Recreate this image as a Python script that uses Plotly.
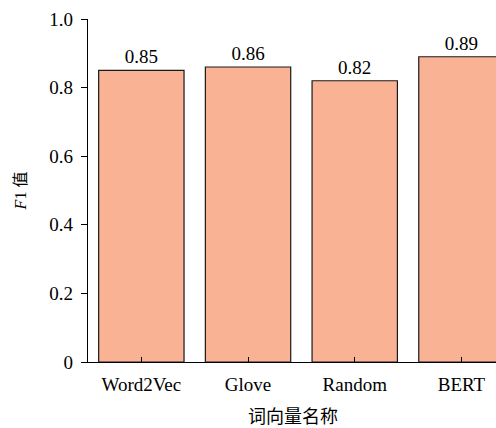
import plotly.graph_objects as go

categories = ["Word2Vec", "Glove", "Random", "BERT"]
f1_values = [0.85, 0.86, 0.82, 0.89]
y_tick_vals = [0, 0.2, 0.4, 0.6, 0.8, 1.0]
y_tick_text = ["0", "0.2", "0.4", "0.6", "0.8", "1.0"]
x_title = "词向量名称"

serif = "Liberation Serif"

fig = go.Figure(go.Bar(
    x=categories, y=f1_values,
    text=[f"{v:.2f}" for v in f1_values],
    textposition="outside",
    textfont=dict(family=serif, size=19, color="black"),
    cliponaxis=True,
    marker=dict(color="#F9B294", line=dict(color="#1a1a1a", width=1.2)),
))

fig.update_layout(
    width=496, height=428,
    margin=dict(l=88, r=0, t=19, b=66),
    plot_bgcolor="white", paper_bgcolor="white",
    bargap=0.2,
    showlegend=False,
    font=dict(family=serif, size=18, color="black"),
)
fig.add_annotation(
    text=x_title, xref="paper", yref="paper", x=0.502, y=-0.155,
    xanchor="center", yanchor="middle", showarrow=False,
    font=dict(family="Noto Sans CJK SC", size=18, color="black"),
)
fig.update_xaxes(
    type="category", range=[-0.5, 3.324],
    showline=True, linecolor="black", linewidth=1.2,
    ticks="inside", ticklen=5, tickcolor="black",
    ticklabelstandoff=5,
    tickfont=dict(family=serif, size=19),
)
fig.update_yaxes(
    range=[0, 1.0],
    tickvals=y_tick_vals, ticktext=y_tick_text,
    showline=True, linecolor="black", linewidth=1.2,
    ticks="outside", ticklen=6, tickcolor="black",
    ticklabelstandoff=4,
    showgrid=False, zeroline=False,
    tickfont=dict(family=serif, size=19),
    title=dict(text="<i>F</i>1 <span style='font-family:Noto Sans CJK SC'>值</span>", font=dict(family=serif, size=16), standoff=18),
)

fig.write_html("out.html", config={"displayModeBar": False},
               post_script="document.body.style.margin='0';document.body.style.overflow='hidden';")
